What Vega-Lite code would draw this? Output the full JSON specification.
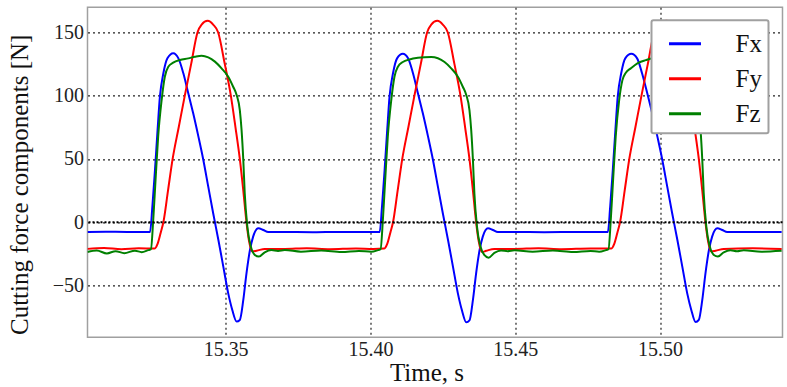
{
"$schema": "https://vega.github.io/schema/vega-lite/v6.json",
"width": 695,
"height": 330,
"autosize": {"type": "none"},
"padding": {"left": 87.5, "top": 7.3, "right": 4.3, "bottom": 49.7},
"background": "white",
"config": {"view": {"stroke": "#a0a0a0", "strokeWidth": 1.5}, "font": "Liberation Serif",
 "axis": {"labelFont": "Liberation Serif", "titleFont": "Liberation Serif"},
 "legend": {"labelFont": "Liberation Serif"}},
"layer": [
{
"data": {"values": [
{"t":15.3023,"s":"Fx","v":-7.7},{"t":15.3120,"s":"Fx","v":-7.5},{"t":15.3200,"s":"Fx","v":-7.7},
{"t":15.3239,"s":"Fx","v":-7.7},{"t":15.3247,"s":"Fx","v":12.3},{"t":15.3256,"s":"Fx","v":41.3},{"t":15.3265,"s":"Fx","v":72.9},{"t":15.3273,"s":"Fx","v":99.2},{"t":15.3285,"s":"Fx","v":117.6},{"t":15.3299,"s":"Fx","v":129.4},{"t":15.3319,"s":"Fx","v":133.4},{"t":15.3337,"s":"Fx","v":129.4},{"t":15.3354,"s":"Fx","v":117.6},{"t":15.3371,"s":"Fx","v":101.8},{"t":15.3388,"s":"Fx","v":86.0},{"t":15.3406,"s":"Fx","v":67.6},{"t":15.3423,"s":"Fx","v":49.2},{"t":15.3440,"s":"Fx","v":28.1},{"t":15.3457,"s":"Fx","v":7.1},{"t":15.3475,"s":"Fx","v":-14.0},{"t":15.3492,"s":"Fx","v":-35.0},{"t":15.3509,"s":"Fx","v":-56.1},{"t":15.3523,"s":"Fx","v":-69.2},{"t":15.3538,"s":"Fx","v":-78.4},{"t":15.3549,"s":"Fx","v":-77.1},{"t":15.3561,"s":"Fx","v":-61.3},{"t":15.3572,"s":"Fx","v":-40.3},{"t":15.3584,"s":"Fx","v":-21.9},{"t":15.3595,"s":"Fx","v":-11.3},{"t":15.3613,"s":"Fx","v":-4.8},{"t":15.3630,"s":"Fx","v":-6.1},{"t":15.3647,"s":"Fx","v":-7.7},
{"t":15.3704,"s":"Fx","v":-7.6},{"t":15.3800,"s":"Fx","v":-7.8},{"t":15.3920,"s":"Fx","v":-7.6},
{"t":15.4032,"s":"Fx","v":-7.7},{"t":15.4040,"s":"Fx","v":12.3},{"t":15.4049,"s":"Fx","v":41.3},{"t":15.4058,"s":"Fx","v":72.9},{"t":15.4066,"s":"Fx","v":99.2},{"t":15.4078,"s":"Fx","v":117.6},{"t":15.4092,"s":"Fx","v":129.4},{"t":15.4112,"s":"Fx","v":133.0},{"t":15.4130,"s":"Fx","v":129.4},{"t":15.4147,"s":"Fx","v":117.6},{"t":15.4164,"s":"Fx","v":101.8},{"t":15.4181,"s":"Fx","v":86.0},{"t":15.4199,"s":"Fx","v":67.6},{"t":15.4216,"s":"Fx","v":49.2},{"t":15.4233,"s":"Fx","v":28.1},{"t":15.4250,"s":"Fx","v":7.1},{"t":15.4268,"s":"Fx","v":-14.0},{"t":15.4285,"s":"Fx","v":-35.0},{"t":15.4302,"s":"Fx","v":-56.1},{"t":15.4316,"s":"Fx","v":-69.5},{"t":15.4331,"s":"Fx","v":-79.0},{"t":15.4342,"s":"Fx","v":-77.5},{"t":15.4354,"s":"Fx","v":-61.3},{"t":15.4365,"s":"Fx","v":-40.3},{"t":15.4377,"s":"Fx","v":-21.9},{"t":15.4388,"s":"Fx","v":-11.3},{"t":15.4406,"s":"Fx","v":-4.8},{"t":15.4423,"s":"Fx","v":-6.1},{"t":15.4440,"s":"Fx","v":-7.7},
{"t":15.4497,"s":"Fx","v":-7.6},{"t":15.4600,"s":"Fx","v":-7.8},{"t":15.4720,"s":"Fx","v":-7.6},
{"t":15.4820,"s":"Fx","v":-7.7},{"t":15.4828,"s":"Fx","v":12.3},{"t":15.4837,"s":"Fx","v":41.3},{"t":15.4846,"s":"Fx","v":72.9},{"t":15.4854,"s":"Fx","v":99.2},{"t":15.4866,"s":"Fx","v":117.6},{"t":15.4880,"s":"Fx","v":129.4},{"t":15.4901,"s":"Fx","v":133.0},{"t":15.4921,"s":"Fx","v":129.4},{"t":15.4938,"s":"Fx","v":117.6},{"t":15.4956,"s":"Fx","v":101.8},{"t":15.4973,"s":"Fx","v":86.0},{"t":15.4991,"s":"Fx","v":67.6},{"t":15.5008,"s":"Fx","v":49.2},{"t":15.5025,"s":"Fx","v":28.1},{"t":15.5042,"s":"Fx","v":7.1},{"t":15.5060,"s":"Fx","v":-14.0},{"t":15.5077,"s":"Fx","v":-35.0},{"t":15.5094,"s":"Fx","v":-56.1},{"t":15.5108,"s":"Fx","v":-69.2},{"t":15.5123,"s":"Fx","v":-78.8},{"t":15.5134,"s":"Fx","v":-77.1},{"t":15.5146,"s":"Fx","v":-61.3},{"t":15.5157,"s":"Fx","v":-40.3},{"t":15.5169,"s":"Fx","v":-21.9},{"t":15.5180,"s":"Fx","v":-11.3},{"t":15.5198,"s":"Fx","v":-4.8},{"t":15.5215,"s":"Fx","v":-6.1},{"t":15.5232,"s":"Fx","v":-7.7},{"t":15.5320,"s":"Fx","v":-7.6},{"t":15.5420,"s":"Fx","v":-7.7},

{"t":15.3023,"s":"Fy","v":-21.0},{"t":15.3080,"s":"Fy","v":-20.3},{"t":15.3140,"s":"Fy","v":-21.2},{"t":15.3200,"s":"Fy","v":-20.6},
{"t":15.3254,"s":"Fy","v":-20.8},{"t":15.3265,"s":"Fy","v":-17},{"t":15.3276,"s":"Fy","v":-8},{"t":15.3285,"s":"Fy","v":0},{"t":15.3301,"s":"Fy","v":25},{"t":15.3317,"s":"Fy","v":50},{"t":15.3338,"s":"Fy","v":75},{"t":15.3359,"s":"Fy","v":100},{"t":15.3381,"s":"Fy","v":125},{"t":15.3403,"s":"Fy","v":150},{"t":15.3417,"s":"Fy","v":156},{"t":15.3438,"s":"Fy","v":159},{"t":15.3457,"s":"Fy","v":156},{"t":15.3474,"s":"Fy","v":150},{"t":15.3497,"s":"Fy","v":125},{"t":15.3518,"s":"Fy","v":100},{"t":15.3534,"s":"Fy","v":75},{"t":15.3549,"s":"Fy","v":50},{"t":15.3561,"s":"Fy","v":25},{"t":15.3572,"s":"Fy","v":0},{"t":15.3581,"s":"Fy","v":-15},{"t":15.3592,"s":"Fy","v":-23},{"t":15.3607,"s":"Fy","v":-22.5},{"t":15.3635,"s":"Fy","v":-21},{"t":15.3704,"s":"Fy","v":-21},
{"t":15.3780,"s":"Fy","v":-20.5},{"t":15.3860,"s":"Fy","v":-21.2},{"t":15.3950,"s":"Fy","v":-20.7},{"t":15.4010,"s":"Fy","v":-21.0},
{"t":15.4047,"s":"Fy","v":-20.8},{"t":15.4058,"s":"Fy","v":-17},{"t":15.4069,"s":"Fy","v":-8},{"t":15.4078,"s":"Fy","v":0},{"t":15.4094,"s":"Fy","v":25},{"t":15.4110,"s":"Fy","v":50},{"t":15.4131,"s":"Fy","v":75},{"t":15.4152,"s":"Fy","v":100},{"t":15.4174,"s":"Fy","v":125},{"t":15.4196,"s":"Fy","v":150},{"t":15.4210,"s":"Fy","v":156},{"t":15.4231,"s":"Fy","v":159},{"t":15.4250,"s":"Fy","v":156},{"t":15.4267,"s":"Fy","v":150},{"t":15.4290,"s":"Fy","v":125},{"t":15.4311,"s":"Fy","v":100},{"t":15.4327,"s":"Fy","v":75},{"t":15.4342,"s":"Fy","v":50},{"t":15.4354,"s":"Fy","v":25},{"t":15.4365,"s":"Fy","v":0},{"t":15.4374,"s":"Fy","v":-15},{"t":15.4385,"s":"Fy","v":-23.5},{"t":15.4400,"s":"Fy","v":-22.5},{"t":15.4428,"s":"Fy","v":-21},{"t":15.4497,"s":"Fy","v":-21},
{"t":15.4580,"s":"Fy","v":-20.5},{"t":15.4660,"s":"Fy","v":-21.2},{"t":15.4760,"s":"Fy","v":-20.7},
{"t":15.4831,"s":"Fy","v":-20.8},{"t":15.4842,"s":"Fy","v":-17},{"t":15.4853,"s":"Fy","v":-8},{"t":15.4862,"s":"Fy","v":0},{"t":15.4878,"s":"Fy","v":25},{"t":15.4894,"s":"Fy","v":50},{"t":15.4915,"s":"Fy","v":75},{"t":15.4936,"s":"Fy","v":100},{"t":15.4958,"s":"Fy","v":125},{"t":15.4980,"s":"Fy","v":150},{"t":15.4997,"s":"Fy","v":156},{"t":15.5023,"s":"Fy","v":159},{"t":15.5042,"s":"Fy","v":156},{"t":15.5059,"s":"Fy","v":150},{"t":15.5082,"s":"Fy","v":125},{"t":15.5103,"s":"Fy","v":100},{"t":15.5119,"s":"Fy","v":75},{"t":15.5134,"s":"Fy","v":50},{"t":15.5146,"s":"Fy","v":25},{"t":15.5157,"s":"Fy","v":0},{"t":15.5166,"s":"Fy","v":-15},{"t":15.5177,"s":"Fy","v":-23},{"t":15.5192,"s":"Fy","v":-22.5},{"t":15.5220,"s":"Fy","v":-21},{"t":15.5320,"s":"Fy","v":-20.6},{"t":15.5420,"s":"Fy","v":-21},

{"t":15.3023,"s":"Fz","v":-23.5},{"t":15.3055,"s":"Fz","v":-22.3},{"t":15.3090,"s":"Fz","v":-24.6},{"t":15.3120,"s":"Fz","v":-22.8},{"t":15.3150,"s":"Fz","v":-24.4},{"t":15.3187,"s":"Fz","v":-22.4},{"t":15.3210,"s":"Fz","v":-23.6},{"t":15.3233,"s":"Fz","v":-22.0},
{"t":15.3242,"s":"Fz","v":-21.3},{"t":15.3250,"s":"Fz","v":1.8},{"t":15.3258,"s":"Fz","v":33.4},{"t":15.3267,"s":"Fz","v":67.6},{"t":15.3279,"s":"Fz","v":96.5},{"t":15.3290,"s":"Fz","v":114.9},{"t":15.3302,"s":"Fz","v":122.8},{"t":15.3319,"s":"Fz","v":126.0},{"t":15.3342,"s":"Fz","v":128.1},{"t":15.3371,"s":"Fz","v":129.4},{"t":15.3394,"s":"Fz","v":130.7},{"t":15.3417,"s":"Fz","v":131.5},{"t":15.3440,"s":"Fz","v":130.2},{"t":15.3463,"s":"Fz","v":126.8},{"t":15.3486,"s":"Fz","v":121.5},{"t":15.3509,"s":"Fz","v":114.9},{"t":15.3526,"s":"Fz","v":107.0},{"t":15.3538,"s":"Fz","v":100.5},{"t":15.3549,"s":"Fz","v":88.6},{"t":15.3555,"s":"Fz","v":72.9},{"t":15.3561,"s":"Fz","v":49.2},{"t":15.3566,"s":"Fz","v":22.9},{"t":15.3575,"s":"Fz","v":-3.4},{"t":15.3587,"s":"Fz","v":-19.2},{"t":15.3601,"s":"Fz","v":-25.8},{"t":15.3615,"s":"Fz","v":-27.1},{"t":15.3635,"s":"Fz","v":-23.7},{"t":15.3658,"s":"Fz","v":-21.9},{"t":15.3681,"s":"Fz","v":-22.6},{"t":15.3704,"s":"Fz","v":-21.9},
{"t":15.3760,"s":"Fz","v":-23.2},{"t":15.3830,"s":"Fz","v":-22.2},{"t":15.3900,"s":"Fz","v":-23.4},{"t":15.3960,"s":"Fz","v":-22.6},{"t":15.4003,"s":"Fz","v":-23.3},{"t":15.4026,"s":"Fz","v":-22.0},
{"t":15.4035,"s":"Fz","v":-21.3},{"t":15.4043,"s":"Fz","v":1.8},{"t":15.4051,"s":"Fz","v":33.4},{"t":15.4060,"s":"Fz","v":67.6},{"t":15.4072,"s":"Fz","v":96.5},{"t":15.4083,"s":"Fz","v":114.9},{"t":15.4095,"s":"Fz","v":122.8},{"t":15.4112,"s":"Fz","v":126.5},{"t":15.4135,"s":"Fz","v":128.5},{"t":15.4164,"s":"Fz","v":129.8},{"t":15.4187,"s":"Fz","v":130.3},{"t":15.4210,"s":"Fz","v":130.5},{"t":15.4233,"s":"Fz","v":129.5},{"t":15.4256,"s":"Fz","v":126.5},{"t":15.4279,"s":"Fz","v":121.5},{"t":15.4302,"s":"Fz","v":114.9},{"t":15.4319,"s":"Fz","v":107.0},{"t":15.4331,"s":"Fz","v":100.5},{"t":15.4342,"s":"Fz","v":88.6},{"t":15.4348,"s":"Fz","v":72.9},{"t":15.4354,"s":"Fz","v":49.2},{"t":15.4359,"s":"Fz","v":22.9},{"t":15.4368,"s":"Fz","v":-3.4},{"t":15.4380,"s":"Fz","v":-19.2},{"t":15.4394,"s":"Fz","v":-26.0},{"t":15.4408,"s":"Fz","v":-28.0},{"t":15.4428,"s":"Fz","v":-24.2},{"t":15.4451,"s":"Fz","v":-22.3},{"t":15.4474,"s":"Fz","v":-22.8},{"t":15.4497,"s":"Fz","v":-22.0},
{"t":15.4560,"s":"Fz","v":-23.2},{"t":15.4630,"s":"Fz","v":-22.2},{"t":15.4700,"s":"Fz","v":-23.4},{"t":15.4760,"s":"Fz","v":-22.6},{"t":15.4790,"s":"Fz","v":-23.3},{"t":15.4813,"s":"Fz","v":-22.0},
{"t":15.4822,"s":"Fz","v":-21.3},{"t":15.4830,"s":"Fz","v":1.8},{"t":15.4838,"s":"Fz","v":33.4},{"t":15.4847,"s":"Fz","v":67.6},{"t":15.4859,"s":"Fz","v":96.5},{"t":15.4870,"s":"Fz","v":112.0},{"t":15.4882,"s":"Fz","v":118.0},{"t":15.4899,"s":"Fz","v":121.5},{"t":15.4922,"s":"Fz","v":125.5},{"t":15.4951,"s":"Fz","v":128.0},{"t":15.4974,"s":"Fz","v":129.5},{"t":15.5002,"s":"Fz","v":130.0},{"t":15.5025,"s":"Fz","v":129.0},{"t":15.5048,"s":"Fz","v":126.0},{"t":15.5071,"s":"Fz","v":121.0},{"t":15.5094,"s":"Fz","v":114.5},{"t":15.5111,"s":"Fz","v":107.0},{"t":15.5123,"s":"Fz","v":100.5},{"t":15.5134,"s":"Fz","v":88.6},{"t":15.5140,"s":"Fz","v":72.9},{"t":15.5146,"s":"Fz","v":49.2},{"t":15.5151,"s":"Fz","v":22.9},{"t":15.5160,"s":"Fz","v":-3.4},{"t":15.5172,"s":"Fz","v":-19.2},{"t":15.5186,"s":"Fz","v":-25.8},{"t":15.5200,"s":"Fz","v":-27.0},{"t":15.5220,"s":"Fz","v":-23.7},{"t":15.5243,"s":"Fz","v":-22.0},{"t":15.5266,"s":"Fz","v":-22.8},{"t":15.5289,"s":"Fz","v":-22.0},{"t":15.5350,"s":"Fz","v":-23.2},{"t":15.5420,"s":"Fz","v":-22.5}
]},
"mark": {"type": "line", "strokeWidth": 2, "interpolate": "monotone", "clip": true},
"encoding": {
"x": {"field": "t", "type": "quantitative",
 "scale": {"domain": [15.3023, 15.5423], "nice": false, "zero": false},
 "axis": {"values": [15.35, 15.40, 15.45, 15.50], "format": ".2f", "title": "Time, s",
  "grid": true, "gridDash": [2, 3], "gridColor": "#222222", "gridWidth": 1.2, "gridOpacity": 1,
  "domain": false, "ticks": false,
  "labelFont": "Liberation Serif", "labelFontSize": 20, "labelColor": "#222222", "labelPadding": 2,
  "titleFont": "Liberation Serif", "titleFontSize": 25, "titleFontWeight": "normal", "titleColor": "#111111",
  "titleX": 339, "titleY": 43, "titleBaseline": "alphabetic", "titleAlign": "center"}},
"y": {"field": "v", "type": "quantitative",
 "scale": {"domain": [-90.8, 169.7], "nice": false, "zero": false},
 "axis": {"values": [-50, 0, 50, 100, 150], "title": "Cutting force components [N]",
  "grid": true, "gridDash": [2, 3], "gridColor": "#222222", "gridWidth": 1.2, "gridOpacity": 1,
  "domain": false, "ticks": false,
  "labelFont": "Liberation Serif", "labelFontSize": 20, "labelColor": "#222222", "labelPadding": 4,
  "titleFont": "Liberation Serif", "titleFontSize": 25, "titleFontWeight": "normal", "titleColor": "#111111",
  "titleX": -59.5, "titleY": 177, "titleAngle": 270, "titleBaseline": "alphabetic", "titleAlign": "center"}},
"color": {"field": "s", "type": "nominal",
 "scale": {"domain": ["Fx", "Fy", "Fz"], "range": ["#0000ff", "#ff0000", "#008000"]},
 "legend": {"title": null, "orient": "none", "legendX": 564, "legendY": 13,
  "symbolType": "stroke", "symbolSize": 1024, "symbolStrokeWidth": 3,
  "labelFont": "Liberation Serif", "labelFontSize": 25, "labelColor": "#111111",
  "labelOffset": 33, "symbolOffset": 10, "rowPadding": 4, "padding": 6,
  "fillColor": "white", "strokeColor": "#a0a0a0", "cornerRadius": 2,
  "encode": {"legend": {"update": {"strokeWidth": {"value": 2}}}}}}
}
},
{
"data": {"values": [{"v": 0}]},
"mark": {"type": "rule", "color": "black", "strokeDash": [2, 2], "strokeWidth": 2},
"encoding": {"y": {"field": "v", "type": "quantitative"}}
}
]
}
